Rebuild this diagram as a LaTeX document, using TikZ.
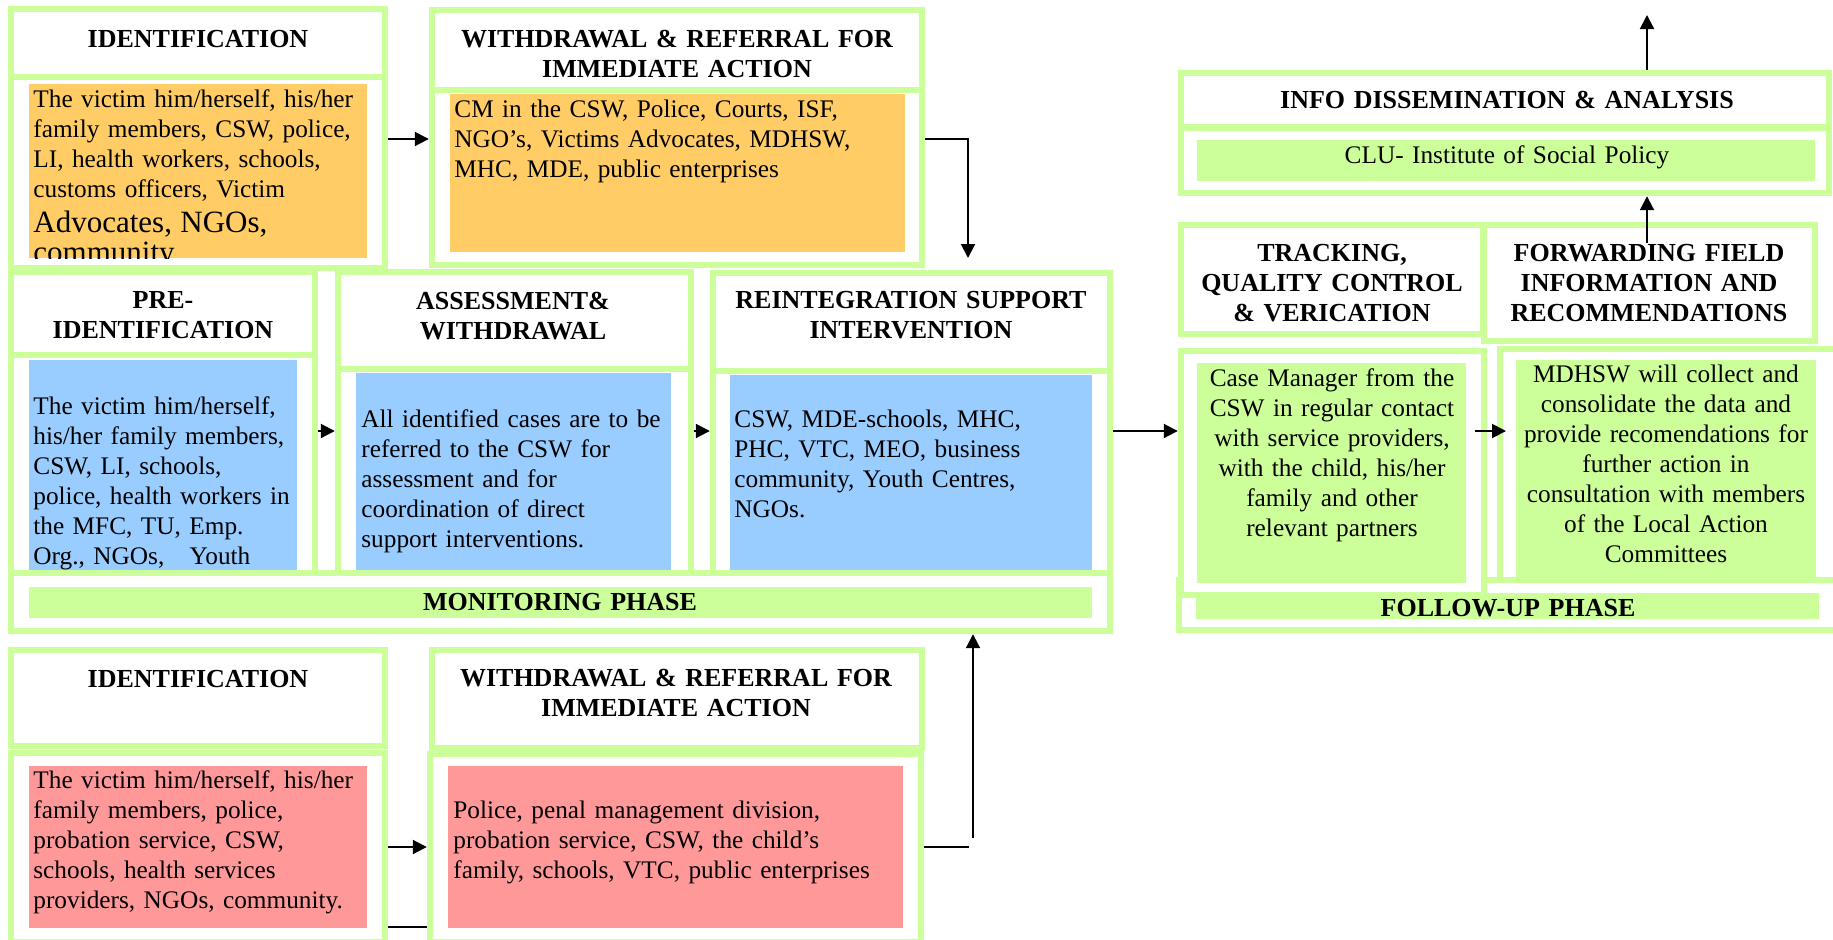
\documentclass[tikz,border=0pt]{standalone}
\usepackage{fontspec}
\setmainfont{Liberation Serif}
\usepackage{xcolor}
\usetikzlibrary{arrows.meta,fit}
\definecolor{frameg}{HTML}{CCFF99}
\definecolor{idorange}{HTML}{FFCC66}
\definecolor{rowblue}{HTML}{99CCFF}
\definecolor{juvpink}{HTML}{FF9999}
\definecolor{folgreen}{HTML}{CCFF99}
\tikzset{
  boxframe/.style={draw=frameg, line width=3.2pt, fill=white, inner sep=0pt},
  panel/.style={inner sep=0pt, outer sep=0pt},
  head/.style={font=\fontsize{13}{15}\selectfont\bfseries, align=center, text width=260pt, inner sep=0pt, anchor=base},
  txt/.style={font=\fontsize{12.65}{15}\selectfont, align=left, text width=240pt, inner sep=0pt, anchor=base west},
  ctxt/.style={font=\fontsize{12.65}{15}\selectfont, align=center, text width=240pt, inner sep=0pt, anchor=base},
  arr/.style={line width=1pt, -{Triangle[length=7pt,width=7pt]}},
  stub/.style={line width=1pt}
}

\begin{document}
\begin{tikzpicture}[x=0.5pt, y=-0.5pt]
  \useasboundingbox (0,0) rectangle (1833,939);

  % upper row (victims)
  \node[boxframe, fit={(11,9) (385,77)}] (idtH) {};
  \node[boxframe, fit={(11,77) (385,268)}] (idtB) {};
  \node[boxframe, fit={(432,10) (922,90)}] (wrtH) {};
  \node[boxframe, fit={(432,90) (922,265)}] (wrtB) {};

  % middle row
  \node[boxframe, fit={(11,272) (315,355)}] (preH) {};
  \node[boxframe, fit={(11,355) (315,573)}] (preB) {};
  \node[boxframe, fit={(338,272) (691,369)}] (assH) {};
  \node[boxframe, fit={(338,369) (691,573)}] (assB) {};
  \node[boxframe, fit={(713,273) (1110,371)}] (reiH) {};
  \node[boxframe, fit={(713,371) (1110,573)}] (reiB) {};
  \node[boxframe, fit={(11,573) (1110,631)}] (mon) {};

  % lower row (juveniles)
  \node[boxframe, fit={(11,650) (385,746)}] (idbH) {};
  \node[boxframe, fit={(11,753) (385,942)}] (idbB) {};
  \node[boxframe, fit={(432,650) (922,748)}] (wrbH) {};
  \node[boxframe, fit={(430,754) (921,942)}] (wrbB) {};

  % follow-up side
  \node[boxframe, fit={(1181,73) (1829,127)}] (infH) {};
  \node[boxframe, fit={(1181,128) (1829,193)}] (infB) {};
  \node[boxframe, fit={(1179,580) (1836,630)}] (folF) {};
  \node[boxframe, fit={(1181,225) (1483,334)}] (trkH) {};
  \node[boxframe, fit={(1484,225) (1815,341)}] (fwdH) {};
  \node[boxframe, fit={(1181,351) (1484,595)}] (trkB) {};
  \node[boxframe, fit={(1500,349) (1836,580)}] (fwdB) {};

  % coloured panels
  \node[panel, fill=idorange, fit={(29,84) (367,258)}] (idtP) {};
  \node[panel, fill=idorange, fit={(450,94) (905,252)}] (wrtP) {};
  \node[panel, fill=rowblue, fit={(29,360) (297,570)}] (preP) {};
  \node[panel, fill=rowblue, fit={(356,373) (671,570)}] (assP) {};
  \node[panel, fill=rowblue, fit={(730,375) (1092,570)}] (reiP) {};
  \node[panel, fill=folgreen, fit={(29,587) (1092,618)}] (monP) {};
  \node[panel, fill=juvpink, fit={(29,766) (367,928)}] (idbP) {};
  \node[panel, fill=juvpink, fit={(448,766) (903,928)}] (wrbP) {};
  \node[panel, fill=folgreen, fit={(1197,140) (1815,181)}] (infP) {};
  \node[panel, fill=folgreen, fit={(1197,363) (1466,583)}] (trkP) {};
  \node[panel, fill=folgreen, fit={(1516,360) (1816,577)}] (fwdP) {};
  \node[panel, fill=folgreen, fit={(1196,593) (1819,619)}] (folP) {};

  % texts
  \node[head] (idtT) at (198,47) {IDENTIFICATION};
  \begin{scope}
    \clip (idtP.north west) rectangle (idtP.south east);
    \node[txt] (idtX) at (33,107) {The victim him/herself, his/her\\family members, CSW, police,\\LI, health workers, schools,\\customs officers, Victim\par
      \fontsize{15.5}{17.5}\selectfont Advocates, NGOs,\\community};
  \end{scope}
  \node[head] (wrtT) at (677,47) {WITHDRAWAL \& REFERRAL FOR\\IMMEDIATE ACTION};
  \node[txt] (wrtX) at (454,117) {CM in the CSW, Police, Courts, ISF,\\NGO's, Victims Advocates, MDHSW,\\MHC, MDE, public enterprises};

  \node[head] (preT) at (163,308) {PRE-\\IDENTIFICATION};
  \node[txt] (preX) at (33,414) {The victim him/herself,\\his/her family members,\\CSW, LI, schools,\\police, health workers in\\the MFC, TU, Emp.\\Org., NGOs,\ \ \ Youth};
  \node[head] (assT) at (513,309) {ASSESSMENT\&\\WITHDRAWAL};
  \node[txt] (assX) at (361,427) {All identified cases are to be\\referred to the CSW for\\assessment and for\\coordination of direct\\support interventions.};
  \node[head] (reiT) at (911,308) {REINTEGRATION SUPPORT\\INTERVENTION};
  \node[txt] (reiX) at (734,427) {CSW, MDE-schools, MHC,\\PHC, VTC, MEO, business\\community, Youth Centres,\\NGOs.};
  \node[head] (monT) at (560,610) {MONITORING PHASE};

  \node[head] (idbT) at (198,687) {IDENTIFICATION};
  \node[txt] (idbX) at (33,788) {The victim him/herself, his/her\\family members, police,\\probation service, CSW,\\schools, health services\\providers, NGOs, community.};
  \node[head] (wrbT) at (676,686) {WITHDRAWAL \& REFERRAL FOR\\IMMEDIATE ACTION};
  \node[txt] (wrbX) at (453,818) {Police, penal management division,\\probation service, CSW, the child's\\family, schools, VTC, public enterprises};

  \node[head] (infT) at (1507,108) {INFO DISSEMINATION \& ANALYSIS};
  \node[ctxt] (infX) at (1507,163) {CLU- Institute of Social Policy};
  \node[head] (trkT) at (1332,261) {TRACKING,\\QUALITY CONTROL\\\& VERICATION};
  \node[ctxt] (trkX) at (1332,386) {Case Manager from the\\CSW in regular contact\\with service providers,\\with the child, his/her\\family and other\\relevant partners};
  \node[head] (fwdT) at (1649,261) {FORWARDING FIELD\\INFORMATION AND\\RECOMMENDATIONS};
  \node[ctxt] (fwdX) at (1666,382) {MDHSW will collect and\\consolidate the data and\\provide recomendations for\\further action in\\consultation with members\\of the Local Action\\Committees};
  \node[head] (folT) at (1508,616) {FOLLOW-UP PHASE};

  % connectors
  \coordinate (r1) at (0,139);
  \coordinate (r2) at (0,431);
  \coordinate (r3) at (0,847);
  \coordinate (r4) at (0,927);
  \coordinate (d1) at (968,258);
  \coordinate (e1) at (969,847);
  \coordinate (e2) at (973,838);
  \coordinate (up) at (1647,243);
  \coordinate (top) at (1647,15);

  \draw[arr] (idtB.east |- r1) -- (wrtB.west |- r1);
  \draw[arr] (wrtB.east |- r1) -| (d1);
  \draw[arr] (preB.east |- r2) -- (assB.west |- r2);
  \draw[arr] (assB.east |- r2) -- (reiB.west |- r2);
  \draw[arr] (reiB.east |- r2) -- (trkB.west |- r2);
  \draw[arr, shorten <=4.5pt, shorten >=5pt] (trkP.east |- r2) -- (fwdP.west |- r2);
  \draw[arr] (up) -- (up |- infB.south);
  \draw[arr] (infH.north -| top) -- (top);

  \draw[arr] (idbB.east |- r3) -- (wrbB.west |- r3);
  \draw[stub] (idbB.east |- r4) -- (wrbB.west |- r4);
  \draw[stub] (wrbB.east |- r3) -- (e1);
  \draw[arr] (e2) -- (e2 |- mon.south);
\end{tikzpicture}
\end{document}
